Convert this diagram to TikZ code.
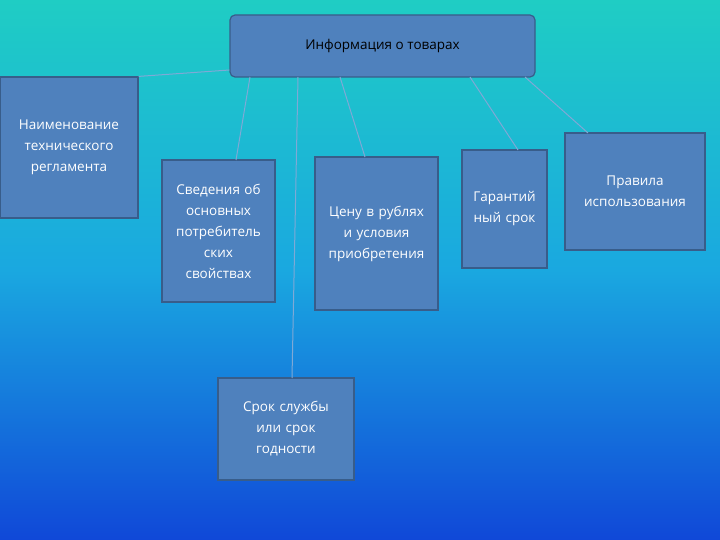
\documentclass[tikz,border=0pt]{standalone}
\usepackage{fontspec}
\setmainfont{Open Sans}
\begin{document}
\begin{tikzpicture}[x=1pt,y=-1pt,
 box/.style={draw=boxedge,fill=boxfill,line width=1.2pt,text=white,align=center,font=\fontsize{13.5}{21}\selectfont,inner sep=1pt},
 link/.style={draw=linkc,line width=1pt}]
\definecolor{boxfill}{HTML}{4F81BD}
\definecolor{boxedge}{HTML}{385D8A}
\definecolor{linkc}{HTML}{7FA9D6}
\definecolor{topc}{HTML}{1FCDC4}
\definecolor{midc}{HTML}{1AA8E0}
\definecolor{botc}{HTML}{1048D8}
\shade[top color=topc,bottom color=botc,middle color=midc] (0,0) rectangle (720,540);
\useasboundingbox (0,0) rectangle (720,540);
\node[box,text=black,rounded corners=5pt,minimum width=305pt,minimum height=62pt] (top) at (382.5,46) {Информация о товарах};
\node[box,minimum width=138pt,minimum height=141pt,text width=136pt] (a) at (69,147.5) {Наименование\\технического\\регламента};
\node[box,minimum width=113pt,minimum height=142pt,text width=111pt] (b) at (218.5,231) {Сведения об\\основных\\потребитель\\ских\\свойствах};
\node[box,minimum width=123pt,minimum height=153pt,text width=121pt] (c) at (376.5,233.5) {Цену в рублях\\и условия\\приобретения};
\node[box,minimum width=85pt,minimum height=118pt,text width=83pt] (d) at (504.5,209) {Гарантий\\ный срок};
\node[box,minimum width=140pt,minimum height=117pt,text width=138pt] (e) at (635,191.5) {Правила\\использования};
\node[box,minimum width=136pt,minimum height=102pt,text width=134pt] (f) at (286,429) {Срок службы\\или срок\\годности};
\draw[link] (top.west |- 0,70) -- (a.north east);
\draw[link] (250,77) -- (236,160);
\draw[link] (298,77) -- (292,378);
\draw[link] (340,77) -- (365,157);
\draw[link] (470,77) -- (518,150);
\draw[link] (525,77) -- (588,133);
\end{tikzpicture}
\end{document}
